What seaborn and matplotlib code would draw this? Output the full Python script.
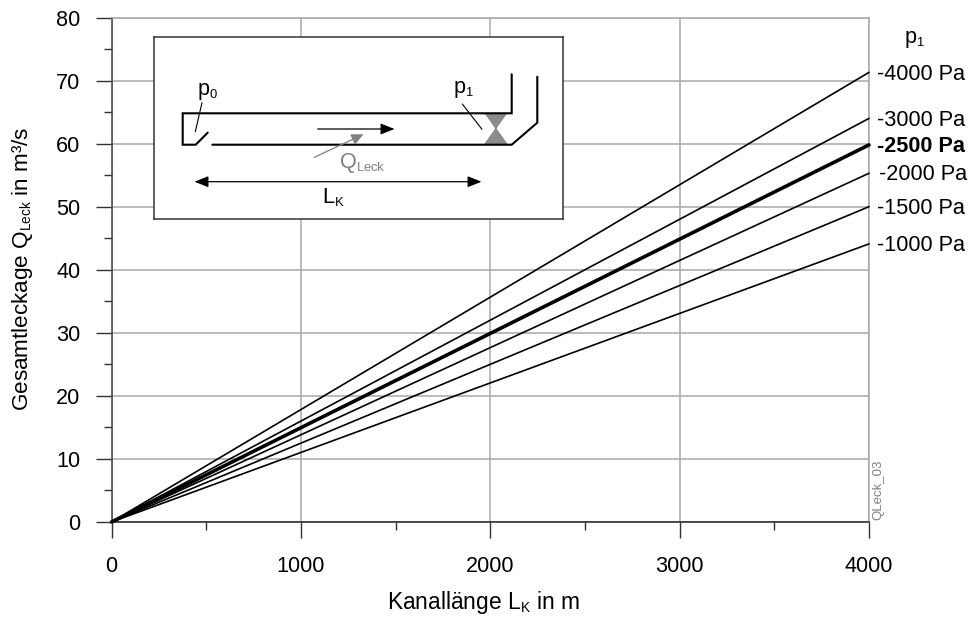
import matplotlib
matplotlib.use("Agg")
import matplotlib.pyplot as plt
import matplotlib._mathtext as mt
import seaborn as sns
from matplotlib.patches import Polygon

# Werte
laenge = [0, 4000]
p4000 = [0, 71.3]
p3000 = [0, 64.0]
p2500 = [0, 59.8]
p2000 = [0, 55.3]
p1500 = [0, 50.0]
p1000 = [0, 44.1]
labels = ['-4000 Pa', '-3000 Pa', '-2500 Pa', '-2000 Pa', '-1500 Pa', '-1000 Pa']
serien = [p4000, p3000, p2500, p2000, p1500, p1000]

sns.set_theme(style="white")
plt.rcParams['font.family'] = ['Liberation Sans', 'DejaVu Sans']
plt.rcParams['mathtext.fontset'] = 'custom'
plt.rcParams['mathtext.rm'] = 'Liberation Sans'
plt.rcParams['mathtext.default'] = 'rm'
mt.SHRINK_FACTOR = 0.6  # kleinere Indizes wie im Original

FS = 15.6
W, H = 971, 617
fig = plt.figure(figsize=(W / 100, H / 100), dpi=100, facecolor='white')
ax = fig.add_axes([111.5 / W, 1 - 522 / H, (869 - 111.5) / W, (522 - 17.5) / H])

for lab, werte in zip(labels, serien):
    dick = lab == '-2500 Pa'
    sns.lineplot(x=laenge, y=werte, ax=ax, color='black', lw=2.6 if dick else 1.2, zorder=3,
                 clip_on=False)
    dx = 7.5 if lab == '-2000 Pa' else 6
    ax.annotate(lab, (laenge[-1], werte[-1]), xytext=(dx, -1.2), textcoords='offset points',
                va='center', ha='left', fontsize=FS, color='black',
                fontweight='bold' if dick else 'normal', annotation_clip=False)

ax.set_xlim(0, 4000)
ax.set_ylim(0, 80)
ax.set_xticks([0, 1000, 2000, 3000, 4000])
ax.set_xticks([500, 1500, 2500, 3500], minor=True)
ax.set_yticks(range(0, 81, 10))
ax.set_yticks(range(5, 80, 10), minor=True)
ax.grid(True, which='major', color='#a8a8a8', lw=1.1)
ax.set_axisbelow(True)
ax.tick_params(axis='both', which='major', length=11.5, width=1, color='#333333', labelsize=FS,
               labelcolor='black', bottom=True, left=True)
ax.tick_params(axis='both', which='minor', length=5.8, width=1, color='#333333', bottom=True, left=True)
ax.tick_params(axis='x', which='major', pad=13)
ax.tick_params(axis='y', which='major', pad=11)

ax.spines['left'].set_color('#444444')
ax.spines['bottom'].set_color('#222222')
ax.spines['right'].set_color('#a8a8a8')
ax.spines['top'].set_color('#a8a8a8')
for s in ax.spines.values():
    s.set_linewidth(1.1)

fig.text(483.5 / W, 1 - 603 / H, r'Kanallänge L$_{\mathrm{K}}$ in m', fontsize=16.4, ha='center', va='center', color='black')
fig.text(23 / W, 1 - 268.5 / H, r'Gesamtleckage Q$_{\mathrm{Leck}}$ in m³/s', fontsize=16.2, rotation=90,
         ha='center', va='center', color='black')
fig.text(904 / W, 1 - 40 / H, r'p$_{1}$', fontsize=FS, ha='left', va='center', color='black')
fig.text(878.5 / W, 1 - 490 / H, 'QLeck_03', fontsize=9.5, rotation=90, ha='center', va='center', color='#808080')

# Skizze im Diagramm, in Bildpixeln
box = fig.add_axes([153.5 / W, 1 - 218.5 / H, (562.7 - 153.5) / W, (218.5 - 37.3) / H], facecolor='white', zorder=5)
box.set_xlim(153.5, 562.7)
box.set_ylim(218.5, 37.3)
box.set_xticks([])
box.set_yticks([])
for s in box.spines.values():
    s.set_color('#333333')
    s.set_linewidth(1.1)

box.add_patch(Polygon([(485, 113.3), (506.7, 113.3), (484.3, 144.7), (507.5, 144.7)],
                      closed=True, fc='#8c8c8c', ec='#777777', lw=0.5))
kanal = [
    [(511.7, 74.3), (511.7, 113.3), (182.7, 113.3), (182.7, 144.7), (195.7, 144.7), (207.7, 132.7)],
    [(212.3, 144.7), (511.7, 144.7), (537.3, 122.7), (537.3, 76.7)],
]
for teil in kanal:
    box.plot([p[0] for p in teil], [p[1] for p in teil], color='black', lw=1.5, solid_joinstyle='miter')
box.plot([202, 195.3], [102.7, 131.7], color='black', lw=0.8)
box.plot([462.3, 482], [104, 129.3], color='black', lw=0.8)

box.annotate('', xy=(394.5, 129), xytext=(317.7, 129),
             arrowprops=dict(arrowstyle='-|>,head_length=0.7,head_width=0.28', color='black', lw=0.9, shrinkA=0, shrinkB=0))
box.annotate('', xy=(363.5, 134.3), xytext=(314.3, 157.3),
             arrowprops=dict(arrowstyle='-|>,head_length=0.6,head_width=0.28', color='#808080', lw=0.9, shrinkA=0, shrinkB=0))
box.annotate('', xy=(481.5, 181.7), xytext=(194.5, 181.7),
             arrowprops=dict(arrowstyle='<|-|>,head_length=0.7,head_width=0.28', color='black', lw=0.9, shrinkA=0, shrinkB=0))

box.text(197, 92, r'p$_{0}$', fontsize=FS, color='black', va='center')
box.text(453, 89, r'p$_{1}$', fontsize=FS, color='black', va='center')
box.text(338.5, 163, r'Q$_{\mathrm{Leck}}$', fontsize=FS, color='#808080', va='center')
box.text(321.5, 198, r'L$_{\mathrm{K}}$', fontsize=FS, color='black', va='center')

fig.savefig('out.png', dpi=100)
